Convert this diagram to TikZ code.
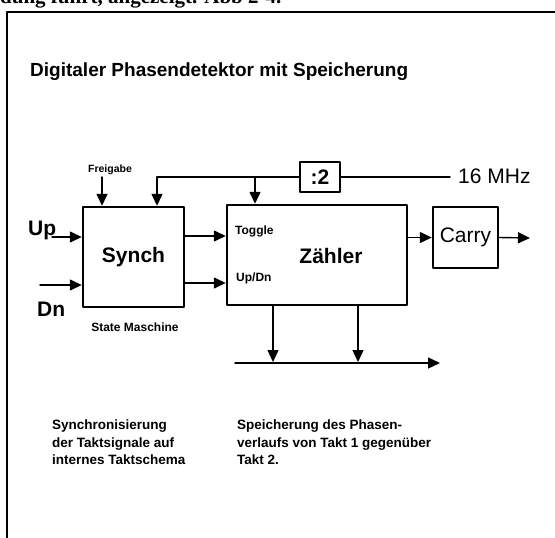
\documentclass[tikz,border=0pt]{standalone}
\usepackage{fontspec}
\setmainfont{Liberation Sans}
\newfontfamily\pageserif{Liberation Serif}
\usetikzlibrary{arrows.meta}

\begin{document}
\begin{tikzpicture}[x=1pt,y=-1pt,line cap=round,line join=round,
  blk/.style={draw,line width=2.4pt,inner sep=0pt},
  sig/.style={line width=1.4pt,-{Triangle[length=12pt,width=11pt]}},
  big/.style={inner sep=0pt,font=\bfseries\fontsize{21}{24}\selectfont},
  small/.style={inner sep=0pt,font=\bfseries\fontsize{12}{14}\selectfont},
  note/.style={inner sep=0pt,align=left,anchor=north west,
    font=\bfseries\fontsize{13.5}{17.5}\selectfont}]
  \useasboundingbox (0,0) rectangle (555,538);
  % cut-off line of the page above
  \begin{scope}
    \clip (0,0) rectangle (555,538);
    \node[anchor=base west,inner sep=0pt,font=\pageserif\bfseries\fontsize{21}{24}\selectfont] (pagetxt) at (0,4) {dung führt, angezeigt. Abb 2-4.};
  \end{scope}
  \draw[line width=1.6pt] (7,538) -- (7,12) -- (555,12);
  \node[anchor=base west,inner sep=0pt,font=\bfseries\fontsize{19}{22}\selectfont] (title) at (30,76) {Digitaler Phasendetektor mit Speicherung};

  % blocks
  \node[blk,big,minimum width=101pt,minimum height=100pt] (synch) at (133.5,257) {Synch};
  \node[blk,minimum width=180pt,minimum height=100pt] (zaehler) at (317,255) {};
  \node[big] (zlbl) at (331,256) {Zähler};
  \node[blk,minimum width=65pt,minimum height=61pt,inner sep=0pt,font=\fontsize{21}{24}\selectfont] (carry) at (465.5,237.5) {Carry};
  \node[blk,big,minimum width=40pt,minimum height=30pt] (div) at (320,177) {:2};

  % labels
  \node[big,anchor=base west] (up) at (28,235) {Up};
  \node[big,anchor=base west] (dn) at (37,316) {Dn};
  \node[inner sep=0pt,font=\bfseries\fontsize{10.5}{12}\selectfont] (freig) at (110,170) {Freigabe};
  \node[small] (state) at (135,327) {State Maschine};
  \node[small,anchor=west] (toggle) at (235,231) {Toggle};
  \node[small,anchor=west] (updn) at (236,278) {Up/Dn};
  \node[inner sep=0pt,anchor=west,font=\fontsize{21}{24}\selectfont] (mhz) at (458,176) {16 MHz};

  % free ends
  \coordinate (upin) at (52,237);
  \coordinate (dnin) at (40,285);
  \coordinate (fg) at (102,177);
  \coordinate (clk) at (157,177);
  \coordinate (clkz) at (255,177);
  \coordinate (fin) at (450,177);
  \coordinate (tg) at (0,236);
  \coordinate (ud) at (0,283);
  \coordinate (cout) at (530,238);
  \coordinate (o1) at (273,362);
  \coordinate (o2) at (358,362);
  \coordinate (bus0) at (235,363);
  \coordinate (bus1) at (440,363);

  % connectors
  \draw[sig] (upin) -- (upin -| synch.west);
  \draw[sig] (dnin) -- (dnin -| synch.west);
  \draw[sig] (fg) -- (fg |- synch.north);
  \draw[sig] (div.west) -| (clk |- synch.north);
  \draw[sig] (clkz) -- (clkz |- zaehler.north);
  \draw[line width=1.4pt] (div.east) -- (fin);
  \draw[sig] (synch.east |- tg) -- (zaehler.west |- tg);
  \draw[sig] (synch.east |- ud) -- (zaehler.west |- ud);
  \draw[sig] (zaehler.east |- carry.west) -- (carry.west);
  \draw[sig] (carry.east) -- (cout);
  \draw[sig] (o1 |- zaehler.south) -- (o1);
  \draw[sig] (o2 |- zaehler.south) -- (o2);
  \draw[sig] (bus0) -- (bus1);

  % notes
  \node[note] (noteA) at (52,420) {Synchronisierung\\der Taktsignale auf\\internes Taktschema};
  \node[note] (noteB) at (237,420) {Speicherung des Phasen-\\verlaufs von Takt 1 gegenüber\\Takt 2.};
\end{tikzpicture}
\end{document}
